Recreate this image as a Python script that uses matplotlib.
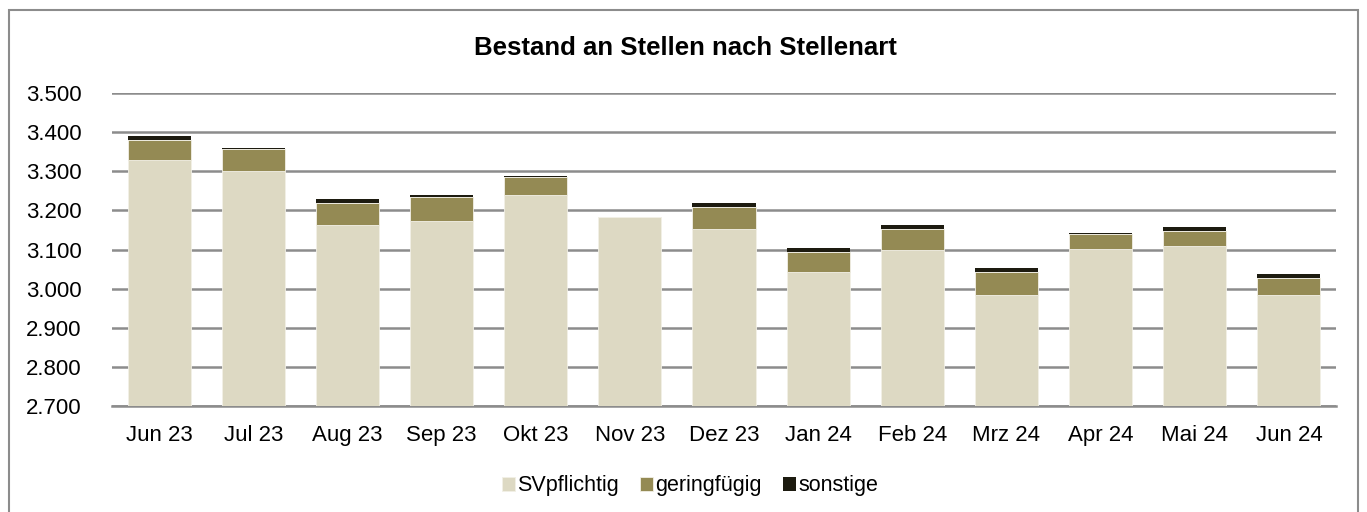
import numpy as np
import matplotlib
matplotlib.use("Agg")
import matplotlib.pyplot as plt
from matplotlib.patches import Rectangle

plt.rcParams['font.family'] = ['Liberation Sans', 'DejaVu Sans']

months = ['Jun 23', 'Jul 23', 'Aug 23', 'Sep 23', 'Okt 23', 'Nov 23', 'Dez 23',
          'Jan 24', 'Feb 24', 'Mrz 24', 'Apr 24', 'Mai 24', 'Jun 24']
sv_pflichtig = [3330, 3300, 3163, 3173, 3240, 3184, 3153, 3042, 3098, 2983, 3102, 3108, 2983]
geringfuegig = [50, 56, 57, 62, 46, 0, 56, 52, 55, 59, 37, 40, 45]
sonstige = [10, 3, 8, 4, 3, 0, 10, 9, 10, 10, 4, 10, 10]

c_sv = '#DDD9C3'
c_ger = '#948A54'
c_son = '#1D1B10'

fig = plt.figure(figsize=(13.67, 5.12), dpi=100)
# outer chart border (bottom edge runs off the image)
fig.patches.append(Rectangle((9/1367, -10/512), 1349/1367, 512/512, transform=fig.transFigure,
                             fill=False, edgecolor='#8C8C8C', linewidth=1.5))

ax = fig.add_axes([112/1367, 1 - 406/512, 1224/1367, 313/512])

x = np.arange(len(months))
sv = np.array(sv_pflichtig)
ger = np.array(geringfuegig)
son = np.array(sonstige)
w = 0.67
ax.bar(x, sv, w, color=c_sv, label='SVpflichtig', zorder=3, edgecolor='#F2F0E6', linewidth=0.6)
ax.bar(x, ger, w, bottom=sv, color=c_ger, label='geringfügig', zorder=3, edgecolor='#F2F0E6', linewidth=0.6)
ax.bar(x, son, w, bottom=sv + ger, color=c_son, label='sonstige', zorder=3, linewidth=0)

ax.set_ylim(2700, 3500)
ax.set_xlim(-0.5, len(months) - 0.5)
yt = np.arange(2700, 3501, 100)
ax.set_yticks(yt)
ax.set_yticklabels(['{:,}'.format(v).replace(',', '.') for v in yt], fontsize=16)
ax.set_xticks(x)
ax.set_xticklabels(months, fontsize=16)
ax.yaxis.grid(True, color='#8C8C8C', linewidth=1.8, zorder=0)
ax.tick_params(axis='y', length=0, pad=22)
ax.tick_params(axis='x', length=0, pad=14)
for s in ['top', 'right', 'left']:
    ax.spines[s].set_visible(False)
ax.spines['bottom'].set_color('#8C8C8C')
ax.spines['bottom'].set_linewidth(1.8)

fig.text(685/1367, 1 - 48/512, 'Bestand an Stellen nach Stellenart', ha='center', va='center',
         fontsize=18.5, fontweight='bold')

fig.legend(loc='center', bbox_to_anchor=(690/1367, 1 - 486/512), ncol=3, frameon=False,
           fontsize=15.5, handlelength=0.6, handleheight=0.6, handletextpad=0.1, columnspacing=1.0)

fig.savefig('out.png', dpi=100)
